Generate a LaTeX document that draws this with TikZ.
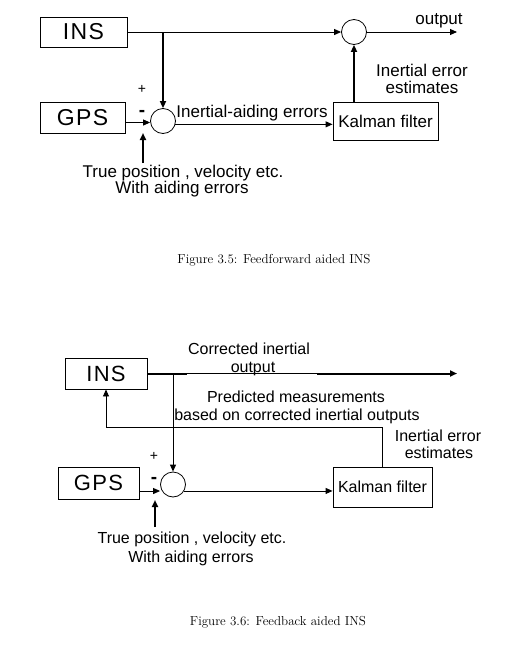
\documentclass[tikz,border=0pt]{standalone}
\usepackage{fontspec}
\setsansfont{Liberation Sans}
\usetikzlibrary{arrows.meta,calc}
\begin{document}
\begin{tikzpicture}[x=1pt,y=-1pt,
  box/.style={draw, line width=0.9pt, inner sep=0pt},
  bigtxt/.style={font=\sffamily\fontsize{23}{26}\selectfont\addfontfeatures{LetterSpace=6}},
  bigtxtb/.style={font=\sffamily\fontsize{22}{25}\selectfont\addfontfeatures{LetterSpace=6}},
  midtxt/.style={font=\sffamily\fontsize{17}{19}\selectfont},
  midtxtb/.style={font=\sffamily\fontsize{16}{18}\selectfont},
  plustxt/.style={font=\sffamily\fontsize{14}{16}\selectfont, inner sep=0pt},
  minustxt/.style={font=\sffamily\bfseries\fontsize{19}{21}\selectfont, inner sep=0pt},
  sumc/.style={draw, circle, line width=0.8pt, minimum size=25pt, inner sep=0pt},
  lbl/.style={midtxt, anchor=base, inner sep=0pt},
  lblb/.style={midtxtb, anchor=base, inner sep=0pt},
  captxt/.style={font=\fontsize{13}{15}\selectfont, anchor=base, inner sep=0pt},
  tipstyle/.style={-{Triangle[length=7pt,width=6pt]}},
  conn/.style={line width=0.9pt, tipstyle},
  thkconn/.style={line width=2pt, tipstyle},
  thk/.style={line width=2pt}
]
\useasboundingbox (0,0) rectangle (509,646);

% ---------- Figure 3.5 ----------
\node[box, bigtxt, minimum width=87pt, minimum height=30pt] (ins1) at (83.5,32) {INS};
\node[box, bigtxt, minimum width=85pt, minimum height=31pt] (gps1) at (82.5,117.5) {GPS};
\node[box, midtxt, minimum width=105pt, minimum height=38pt] (kal1) at (385.5,121) {Kalman filter};
\node[sumc] (s1) at (354,32) {};
\node[sumc] (s2) at (163,121) {};
\coordinate (out1) at (457,32);
\coordinate (tp1) at (143,163);
\coordinate (tp1e) at (143,133);

\draw[conn] (ins1.east) -- (s1.west);
\draw[thkconn] (s2.north |- ins1.east) -- (s2.north);
\draw[conn] ([yshift=-5pt]gps1.east) -- ([yshift=-5pt]gps1.east -| s2.west);
\draw[thkconn] (tp1) -- (tp1e);
\draw[conn] (s2.-15) -- (s2.-15 -| kal1.west);
\draw[thkconn] (s1.south |- kal1.north) -- (s1.south);
\draw[conn] (s1.east) -- (out1);

\node[lbl] (l1) at (439,24) {output};
\node[lbl] (l2) at (422,76) {Inertial error};
\node[lbl] (l3) at (422,93) {estimates};
\node[lbl] (l4) at (252,117) {Inertial-aiding errors};
\node[lbl] (l5) at (183,177) {True position , velocity etc.};
\node[lbl] (l6) at (182,193) {With aiding errors};
\node[plustxt] (p1) at (142,89) {+};
\node[minustxt] (m1) at (142,113.5) {-};

\node[captxt] (c1) at (274,263) {Figure 3.5: Feedforward aided INS};

% ---------- Figure 3.6 ----------
\node[box, bigtxtb, minimum width=82pt, minimum height=31pt] (ins2) at (106,373.5) {INS};
\node[box, bigtxtb, minimum width=81pt, minimum height=32pt] (gps2) at (98.5,483) {GPS};
\node[box, midtxtb, minimum width=99pt, minimum height=40pt] (kal2) at (382.5,487) {Kalman filter};
\node[sumc] (s3) at (173,484.5) {};
\coordinate (a1) at (187,373.5);
\coordinate (a2) at (317,373.5);
\coordinate (out2) at (457,373.5);
\coordinate (tp2) at (155,527);
\coordinate (tp2e) at (155,500);

\draw[thk] (ins2.east) -- (a1);
\draw[line width=0.9pt] (a1) -- (a2);
\draw[thkconn] (a2) -- (out2);
\draw[conn] (s3.north |- ins2.east) -- (s3.north);
\draw[conn] (kal2.north) -- ++(0,-39) -| (ins2.south);
\draw[conn] ([yshift=-8pt]gps2.east) -- ([yshift=-8pt]gps2.east -| s3.west);
\draw[thkconn] (tp2) -- (tp2e);
\draw[conn] (s3.-30) -- (s3.-30 -| kal2.west);

\node[lblb] (k1) at (249,354) {Corrected inertial};
\node[lblb] (k2) at (253,372) {output};
\node[lblb] (k3) at (296,402) {Predicted measurements};
\node[lblb] (k4) at (297,420) {based on corrected inertial outputs};
\node[lblb] (k5) at (438,441) {Inertial error};
\node[lblb] (k6) at (439,458) {estimates};
\node[lblb] (k7) at (192,543) {True position , velocity etc.};
\node[lblb] (k8) at (191,562) {With aiding errors};
\node[plustxt] (p2) at (154,456) {+};
\node[minustxt] (m2) at (154,480.5) {-};

\node[captxt] (c2) at (278,625) {Figure 3.6: Feedback aided INS};
\end{tikzpicture}
\end{document}
